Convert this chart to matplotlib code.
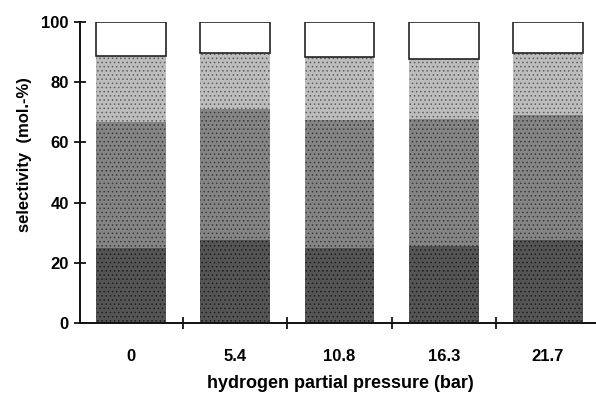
import matplotlib
matplotlib.use("Agg")
import matplotlib.pyplot as plt
import numpy as np

plt.rcParams['font.family'] = ['Liberation Sans', 'DejaVu Sans']
plt.rcParams['hatch.linewidth'] = 0.6

categories = ["0", "5.4", "10.8", "16.3", "21.7"]
# segment heights (mol.-%), bottom to top
dark = [24.8, 27.6, 24.9, 25.7, 27.6]
medium = [42.1, 43.4, 42.5, 42.1, 41.5]
light = [21.8, 18.6, 20.9, 19.8, 20.7]
white = [11.3, 10.4, 11.7, 12.4, 10.2]

fig = plt.figure(figsize=(5.96, 3.96), dpi=100)
ax = fig.add_axes([80/596, 1-323/396, 516/596, 301/396])

x = np.arange(len(categories))
w = 0.67
styles = [
    (dark, '#555555', '#1e1e1e'),
    (medium, '#858585', '#3a3a3a'),
    (light, '#bdbdbd', '#5e5e5e'),
]
bottom = np.zeros(len(categories))
for vals, fc, hc in styles:
    ax.bar(x, vals, w, bottom=bottom, color=fc, edgecolor=hc, linewidth=0,
           hatch='....', zorder=2)
    bottom += np.array(vals)
ax.bar(x, white, w, bottom=bottom, color='white', edgecolor='#222222',
       linewidth=1.2, zorder=2)

ax.set_xlim(-0.489, 4.46)
ax.set_ylim(0, 100)
for s in ['top', 'right']:
    ax.spines[s].set_visible(False)
for s in ['left', 'bottom']:
    ax.spines[s].set_linewidth(1.4)
    ax.spines[s].set_color('#111111')

ax.set_yticks([0, 20, 40, 60, 80, 100])
ax.tick_params(axis='y', direction='inout', length=8, width=1.2, pad=4,
               labelsize=12)
for t in ax.get_yticklabels():
    t.set_fontweight('bold')

ax.set_xticks(x[:-1] + 0.5)
ax.set_xticklabels([])
ax.tick_params(axis='x', which='major', direction='inout', length=8, width=1.2)
ax.set_xticks(x, minor=True)
ax.set_xticklabels(categories, minor=True, fontsize=12, fontweight='bold')
ax.tick_params(axis='x', which='minor', length=0, pad=19)

ax.set_ylabel('selectivity  (mol.-%)', fontsize=12, fontweight='bold')
ax.yaxis.set_label_coords(-0.093, 0.558)
ax.set_xlabel('hydrogen partial pressure (bar)', fontsize=13, fontweight='bold')
ax.xaxis.set_label_coords(0.504, -0.173)

fig.savefig('out.png', dpi=100)
